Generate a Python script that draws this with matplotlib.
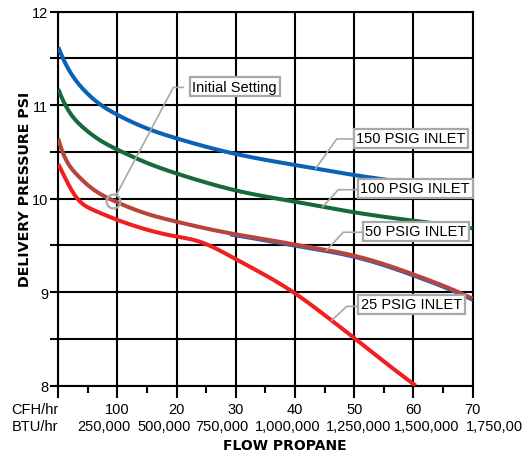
import numpy as np
import matplotlib
matplotlib.use("Agg")
import matplotlib.pyplot as plt

# ---- data -----------------------------------------------------------------
flow_150 = [0, 1.42, 4.22, 7.05, 9.75, 12.62, 15.45, 20, 25, 30, 40, 50, 60, 70]
psi_150 = [11.62, 11.42, 11.17, 11.01, 10.905, 10.815, 10.74, 10.645, 10.555, 10.478, 10.36, 10.253, 10.168, 10.122]

flow_100 = [0, 1.42, 4.22, 7.05, 9.75, 12.62, 15.45, 19.38, 23.87, 30.14, 39.99, 49.96, 59.98, 70]
psi_100 = [11.173, 10.975, 10.76, 10.625, 10.532, 10.447, 10.371, 10.282, 10.193, 10.086, 9.968, 9.855, 9.765, 9.683]

flow_50 = [0, 0.85, 3.1, 5.9, 9.3, 14.9, 19.6, 25.1, 29.9, 35, 40, 45, 50, 55, 60, 65, 70]
psi_50 = [10.64, 10.48, 10.26, 10.10, 9.98, 9.84, 9.76, 9.68, 9.62, 9.565, 9.51, 9.455, 9.39, 9.30, 9.19, 9.07, 8.93]

# thin blue trace running just under the 50 PSIG curve
flow_50b = [29, 35, 40, 45, 50, 55, 60, 65, 70]
psi_50b = [9.605, 9.54, 9.485, 9.43, 9.365, 9.275, 9.165, 9.045, 8.905]

flow_25 = [0, 0.85, 3.1, 5.9, 9.7, 14.9, 19.6, 23.4, 26.2, 29.8, 34.6, 39.7, 44.8, 49.8, 54.9, 60.4]
psi_25 = [10.37, 10.26, 10.01, 9.88, 9.78, 9.67, 9.60, 9.55, 9.48, 9.36, 9.195, 9.0, 8.765, 8.52, 8.265, 8.0]

cfh_ticks = [10, 20, 30, 40, 50, 60, 70]
cfh_labels = ["100", "20", "30", "40", "50", "60", "70"]
btu_labels = ["250,000", "500,000", "750,000", "1,000,000", "1,250,000", "1,500,000", "1,750,00"]
ytick_vals = [8, 9, 10, 11, 12]

series_names = ["150 PSIG INLET", "100 PSIG INLET", "50 PSIG INLET", "25 PSIG INLET"]
initial_setting_flow = 9.3

# ---- helpers --------------------------------------------------------------
def spline(x, y, xs):
    """Cubic spline with not-a-knot ends."""
    x = np.asarray(x, float); y = np.asarray(y, float)
    n = len(x)
    h = np.diff(x); d = np.diff(y) / h
    A = np.zeros((n, n)); b = np.zeros(n)
    for i in range(1, n - 1):
        A[i, i - 1] = h[i - 1]
        A[i, i] = 2 * (h[i - 1] + h[i])
        A[i, i + 1] = h[i]
        b[i] = 6 * (d[i] - d[i - 1])
    A[0, 0], A[0, 1], A[0, 2] = h[1], -(h[0] + h[1]), h[0]
    A[-1, -3], A[-1, -2], A[-1, -1] = h[-1], -(h[-2] + h[-1]), h[-2]
    M = np.linalg.solve(A, b)
    xs = np.asarray(xs, float)
    i = np.clip(np.searchsorted(x, xs) - 1, 0, n - 2)
    hi = h[i]
    a = x[i + 1] - xs; c = xs - x[i]
    return (M[i] * a**3 / (6 * hi) + M[i + 1] * c**3 / (6 * hi)
            + (y[i] / hi - M[i] * hi / 6) * a + (y[i + 1] / hi - M[i + 1] * hi / 6) * c)

def smooth(x, y):
    xs = np.linspace(x[0], x[-1], 500)
    return xs, spline(x, y, xs)

# ---- figure ---------------------------------------------------------------
W, H = 528, 452
fig = plt.figure(figsize=(W / 100, H / 100), dpi=100)
ax = fig.add_axes([58.3 / W, 1 - 386.7 / H, (472.6 - 58.3) / W, (386.7 - 12.7) / H])
ax.set_xlim(0, 70)
ax.set_ylim(8, 12)

regular = "Liberation Sans"
grid_lw = 1.5

ax.set_xticks(np.arange(0, 71, 10))
ax.set_xticks(np.arange(5, 70, 10), minor=True)
ax.set_yticks(np.arange(8, 12.01, 0.5))
ax.grid(True, which="major", color="black", lw=grid_lw, zorder=1)
ax.set_xticklabels([])
ax.set_yticklabels([str(int(v)) if v in ytick_vals else "" for v in np.arange(8, 12.01, 0.5)],
                   fontfamily=regular, fontsize=10.5)
ax.tick_params(axis="y", length=5.8, width=grid_lw, pad=1.5, color="black")
ax.tick_params(axis="x", which="major", length=8.6, width=grid_lw, color="black")
ax.tick_params(axis="x", which="minor", length=5.0, width=grid_lw, color="black")
for s in ax.spines.values():
    s.set_linewidth(grid_lw)
    s.set_color("black")

# ---- curves ---------------------------------------------------------------
lw = 2.9
c150, c100, c50, c25 = "#0b62b5", "#17693a", "#b8443b", "#f02020"
ax.plot(*smooth(flow_50b, psi_50b), color="#1f5fc8", lw=1.1, zorder=3, solid_capstyle="butt")
ax.plot(*smooth(flow_150, psi_150), color=c150, lw=lw, zorder=4, solid_capstyle="butt")
ax.plot(*smooth(flow_100, psi_100), color=c100, lw=lw, zorder=4, solid_capstyle="butt")
ax.plot(*smooth(flow_50, psi_50), color=c50, lw=lw, zorder=4, solid_capstyle="butt")
ax.plot(*smooth(flow_25, psi_25), color=c25, lw=lw, zorder=4, solid_capstyle="butt")

# ---- callouts -------------------------------------------------------------
gray = "#a8a8a8"
box = dict(boxstyle="square,pad=0.18", fc="white", ec=gray, lw=1.6)

def callout(text, fx, fy, elbow, box_left, box_center):
    ax.plot([fx, elbow[0], box_left], [fy, elbow[1], elbow[1]], color=gray, lw=1.2, zorder=5)
    ax.text(box_center[0], box_center[1], text, ha="center", va="center",
            fontfamily=regular, fontsize=10.5, bbox=box, zorder=6)

callout(series_names[0], 43.49, float(spline(flow_150, psi_150, [43.49])[0]),
        (47.04, 10.639), 49.74, (59.6, 10.645))
callout(series_names[1], 44.67, float(spline(flow_100, psi_100, [44.67])[0]),
        (47.31, 10.096), 50.69, (60.3, 10.112))
callout(series_names[2], 45.35, float(spline(flow_50, psi_50, [45.35])[0]),
        (48.15, 9.641), 51.43, (60.45, 9.65))
callout(series_names[3], 46.19, float(spline(flow_25, psi_25, [46.19])[0]),
        (48.73, 8.849), 50.69, (59.7, 8.871))

# initial setting marker on the 50 PSIG curve
ix = initial_setting_flow
iy = float(spline(flow_50, psi_50, [ix])[0])
ax.plot([ix], [iy], marker="o", ms=10, mfc="none", mec=gray, mew=1.6, zorder=6, clip_on=False)
fig.canvas.draw()
p0 = ax.transData.transform((ix, iy))
p1 = ax.transData.transform((19.43, 11.19))
u = (p1 - p0) / np.hypot(*(p1 - p0))
start = ax.transData.inverted().transform(p0 + u * 7)
ax.plot([start[0], 19.43, 21.12], [start[1], 11.19, 11.19], color=gray, lw=1.2, zorder=5)
ax.text(29.8, 11.2, "Initial Setting", ha="center", va="center",
        fontfamily=regular, fontsize=10.5, bbox=box, zorder=6)

# ---- axis text ------------------------------------------------------------
row1_dy, row2_dy = -23.3, -40.0
btu_dx = [-13.7, -12.7, -14.2, -7.1, 4.6, 13.7]
for v, lab in zip(cfh_ticks, cfh_labels):
    ax.annotate(lab, xy=(v, 0), xycoords=("data", "axes fraction"), xytext=(0, row1_dy),
                textcoords="offset pixels", ha="center", va="center",
                fontfamily=regular, fontsize=10.5, annotation_clip=False)
for v, lab, dx in zip(cfh_ticks[:-1], btu_labels[:-1], btu_dx):
    ax.annotate(lab, xy=(v, 0), xycoords=("data", "axes fraction"), xytext=(dx, row2_dy),
                textcoords="offset pixels", ha="center", va="center",
                fontfamily=regular, fontsize=10.5, annotation_clip=False)
ax.annotate(btu_labels[-1], xy=(cfh_ticks[-1], 0), xycoords=("data", "axes fraction"),
            xytext=(-7, row2_dy), textcoords="offset pixels", ha="left", va="center",
            fontfamily=regular, fontsize=10.5, annotation_clip=False)
for lab, dy in (("CFH/hr", row1_dy), ("BTU/hr", row2_dy)):
    ax.annotate(lab, xy=(0, 0), xycoords=("data", "axes fraction"), xytext=(-46.6, dy),
                textcoords="offset pixels", ha="left", va="center",
                fontfamily=regular, fontsize=10.5, annotation_clip=False)

ax.annotate("FLOW PROPANE", xy=(0.5, 0), xycoords="axes fraction", xytext=(19, -59.5),
            textcoords="offset pixels", ha="center", va="center",
            fontfamily="DejaVu Sans", fontweight="bold", fontsize=10, annotation_clip=False)
ax.annotate("DELIVERY PRESSURE PSI", xy=(0, 0.5), xycoords="axes fraction", xytext=(-33, 10),
            textcoords="offset pixels", ha="center", va="center", rotation=90,
            fontfamily="DejaVu Sans", fontweight="bold", fontsize=10.3, annotation_clip=False)

fig.savefig("out.png", dpi=100, facecolor="white")
